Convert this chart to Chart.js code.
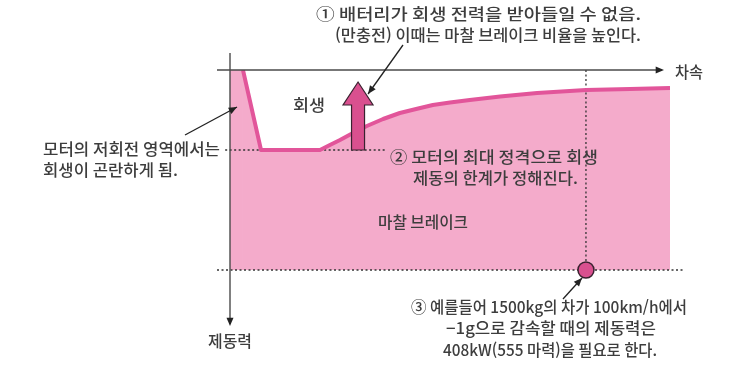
<!DOCTYPE html>
<html lang="ko">
<head>
<meta charset="utf-8">
<title>회생 제동과 마찰 브레이크</title>
<script src="https://cdn.jsdelivr.net/npm/chart.js@4.4.1/dist/chart.umd.min.js"></script>
<style>
  html, body { margin: 0; padding: 0; background: #fff; }
  #wrap { width: 743px; height: 368px; }
</style>
</head>
<body>
<div id="wrap"><canvas id="brakeChart" width="743" height="368"></canvas></div>
<script>
// vehicle speed (0..100, relative) and braking force (0 at top axis, 100 = friction brake max)
const vehicleSpeed = [0, 2.95, 7.05, 20.45, 22.7, 25, 27.95, 31.1, 34.8, 38.6, 42.3, 46.1, 50, 54.5, 61.4, 69.8, 80.9, 90.9, 100];
const regenLimit   = [0, 0, 40, 40, 37.5, 35, 31.5, 28, 24.5, 21.5, 19.5, 17.5, 16.25, 15, 13.25, 11.5, 10, 9.5, 9];

// dashed guide lines
const ratedLineX = [-1.1, 35.2];
const ratedLineY = [40, 40];
const frictionMaxX = [-2.95, 103.4];
const frictionMaxY = [100, 100];
const exampleSpeed = 80.9;
const exampleForce = 100;

// big regen arrow (speed, from force, to force)
const regenArrow = { x: 29.1, from: 40, to: 6 };

// text lines: [text, left x, middle y, width]
const notes = [
    ['① 배터리가 회생 전력을 받아들일 수 없음.', 316, 14, 325],
    ['(만충전) 이때는 마찰 브레이크 비율을 높인다.', 335, 35, 306],
    ['회생', 293, 105, 32],
    ['모터의 저회전 영역에서는', 43, 149, 177],
    ['회생이 곤란하게 됨.', 43, 170, 135],
    ['② 모터의 최대 정격으로 회생', 390, 157, 208],
    ['제동의 한계가 정해진다.', 413, 178, 165],
    ['마찰 브레이크', 378, 222, 90],
    ['③ 예를들어 1500kg의 차가 100km/h에서', 411, 307, 276],
    ['−1g으로 감속할 때의 제동력은', 446, 328, 210],
    ['408kW(555 마력)을 필요로 한다.', 443, 350, 214],
    ['제동력', 208, 341, 44],
    ['차속', 675, 72, 28]
];

const pinkFill = '#f4abcb';
const pinkLine = '#e2559a';
const deepPink = '#d9508f';
const ink = '#3d3d3d';

function arrowHead(ctx, x1, y1, x2, y2, size) {
    let a = Math.atan2(y2 - y1, x2 - x1);
    ctx.beginPath();
    ctx.moveTo(x2, y2);
    ctx.lineTo(x2 - size * Math.cos(a - 0.4), y2 - size * Math.sin(a - 0.4));
    ctx.lineTo(x2 - size * Math.cos(a + 0.4), y2 - size * Math.sin(a + 0.4));
    ctx.closePath();
    ctx.fill();
}

function arrowLine(ctx, x1, y1, x2, y2) {
    ctx.beginPath();
    ctx.moveTo(x1, y1);
    ctx.lineTo(x2, y2);
    ctx.stroke();
    arrowHead(ctx, x1, y1, x2, y2, 9);
}

// draws text stretched to the width measured on the original picture
function fitText(ctx, text, x, y, w) {
    let m = ctx.measureText(text).width;
    ctx.save();
    ctx.translate(x, y);
    ctx.scale(w / m, 1);
    ctx.fillText(text, 0, 0);
    ctx.restore();
}

const decorPlugin = {
    id: 'decor',
    afterDatasetsDraw(chart) {
        const ctx = chart.ctx;
        const xs = chart.scales.x, ys = chart.scales.y;
        const area = chart.chartArea;
        ctx.save();

        // axes
        ctx.strokeStyle = '#4a4a4a';
        ctx.fillStyle = '#222';
        ctx.lineWidth = 1.4;
        ctx.beginPath();
        ctx.moveTo(area.left - 13, area.top);
        ctx.lineTo(area.right - 8, area.top);
        ctx.stroke();
        arrowHead(ctx, area.left, area.top, area.right - 6, area.top, 9);
        ctx.beginPath();
        ctx.moveTo(area.left, area.top - 17);
        ctx.lineTo(area.left, area.bottom + 54);
        ctx.stroke();
        arrowHead(ctx, area.left, area.top, area.left, area.bottom + 56, 9);

        // big regen arrow
        let ax = xs.getPixelForValue(regenArrow.x);
        let yb = ys.getPixelForValue(regenArrow.from);
        let yt = ys.getPixelForValue(regenArrow.to);
        let headBase = yt + 23;
        ctx.beginPath();
        ctx.moveTo(ax - 6.5, yb);
        ctx.lineTo(ax - 6.5, headBase);
        ctx.lineTo(ax - 15, headBase);
        ctx.lineTo(ax, yt);
        ctx.lineTo(ax + 15, headBase);
        ctx.lineTo(ax + 6.5, headBase);
        ctx.lineTo(ax + 6.5, yb);
        ctx.closePath();
        ctx.fillStyle = deepPink;
        ctx.fill();
        ctx.strokeStyle = '#3a2230';
        ctx.lineWidth = 1.2;
        ctx.stroke();

        // leader arrows
        ctx.strokeStyle = '#222';
        ctx.fillStyle = '#222';
        ctx.lineWidth = 1.3;
        arrowLine(ctx, 403, 45, ax + 10, yt + 12);
        arrowLine(ctx, 185, 135, 237, 107);
        arrowLine(ctx, 563, 299, 582, 278);

        // texts
        ctx.fillStyle = ink;
        ctx.textBaseline = 'middle';
        ctx.textAlign = 'left';
        ctx.font = '500 16px "Noto Sans CJK KR", sans-serif';
        notes.forEach(n => fitText(ctx, n[0], n[1], n[2], n[3]));
        ctx.restore();
    }
};

function toPoints(xArr, yArr) {
    return xArr.map((x, i) => ({ x: x, y: yArr[i] }));
}

let ctx = document.getElementById('brakeChart').getContext('2d');
let brakeChart = new Chart(ctx, {
    type: 'line',
    data: {
        datasets: [{
            label: '회생 한계',
            data: toPoints(vehicleSpeed, regenLimit),
            borderColor: pinkLine,
            borderWidth: 4,
            backgroundColor: pinkFill,
            fill: { value: 100 },
            tension: 0,
            pointRadius: 0,
            borderJoinStyle: 'round',
            segment: {
                borderColor: c => c.p0DataIndex === 0 ? 'rgba(0,0,0,0)' : pinkLine
            },
            order: 1
        },
        {
            label: '정격 한계',
            data: toPoints(ratedLineX, ratedLineY),
            borderColor: '#333',
            borderWidth: 1.3,
            borderDash: [2, 2.5],
            pointRadius: 0,
            fill: false,
            clip: false,
            order: 2
        },
        {
            label: '마찰 최대',
            data: toPoints(frictionMaxX, frictionMaxY),
            borderColor: '#333',
            borderWidth: 1.3,
            borderDash: [2, 2.5],
            pointRadius: 0,
            fill: false,
            clip: false,
            order: 2
        },
        {
            label: '예시 속도',
            data: [{ x: exampleSpeed, y: 0 }, { x: exampleSpeed, y: exampleForce }],
            borderColor: '#333',
            borderWidth: 1.3,
            borderDash: [2, 2.5],
            pointRadius: 0,
            fill: false,
            clip: false,
            order: 2
        },
        {
            label: '예시',
            data: [{ x: exampleSpeed, y: exampleForce }],
            showLine: false,
            pointRadius: 8,
            pointBackgroundColor: deepPink,
            pointBorderColor: '#3a2230',
            pointBorderWidth: 1.5,
            clip: false,
            order: 0
        }]
    },
    options: {
        responsive: false,
        animation: false,
        layout: {
            padding: { left: 230, right: 73, top: 70, bottom: 98 }
        },
        scales: {
            x: { type: 'linear', min: 0, max: 100, display: false },
            y: { type: 'linear', min: 0, max: 100, reverse: true, display: false }
        },
        plugins: {
            legend: { display: false },
            tooltip: { enabled: false },
            filler: { drawTime: 'beforeDatasetsDraw' }
        }
    },
    plugins: [decorPlugin]
});
</script>
</body>
</html>
